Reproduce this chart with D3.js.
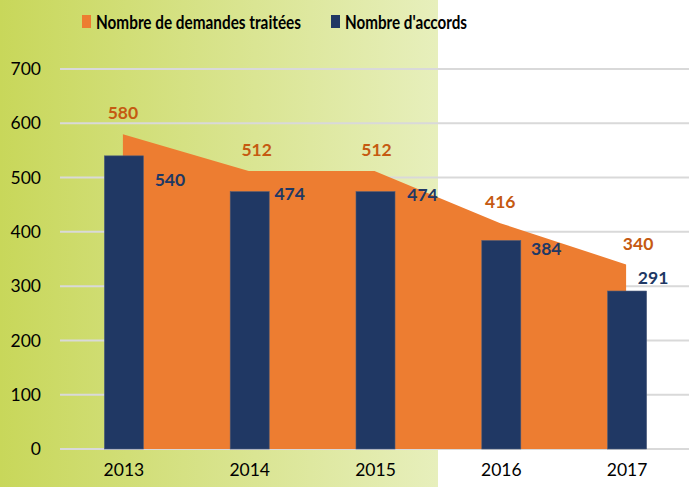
<!DOCTYPE html>
<html>
<head>
<meta charset="utf-8">
<script src="https://cdn.jsdelivr.net/npm/d3@7"></script>
<style>
  body { margin: 0; background: #fff; }
  svg { display: block; font-family: Lato, "Open Sans", sans-serif; }
</style>
</head>
<body>
<script>
var years = ['2013', '2014', '2015', '2016', '2017'];
var demandes = [580, 512, 512, 416, 340];
var accords = [540, 474, 474, 384, 291];
var yTicks = [0, 100, 200, 300, 400, 500, 600, 700];

var width = 689;
var height = 487;
var margin = { left: 60, right: 0, top: 69, bottom: 38 };

var svg = d3.select('body')
            .append('svg')
            .attr('width', width)
            .attr('height', height);

// green background band on the left
var defs = svg.append('defs');
var grad = defs.append('linearGradient')
               .attr('id', 'bg')
               .attr('x1', '0%').attr('x2', '100%');
grad.append('stop').attr('offset', '0%').attr('stop-color', '#c8d75a');
grad.append('stop').attr('offset', '100%').attr('stop-color', '#e7efbc');
svg.append('rect')
   .attr('x', 0).attr('y', 0)
   .attr('width', 438).attr('height', height)
   .attr('fill', 'url(#bg)');

var xScale = d3.scaleBand()
               .domain(years)
               .range([margin.left, width - margin.right])
               .paddingInner(0.69)
               .paddingOuter(0.345);

var yScale = d3.scaleLinear()
               .domain([0, 700])
               .range([height - margin.bottom, margin.top]);

function cx(d) { return xScale(d) + xScale.bandwidth() / 2; }

// gridlines
svg.selectAll('.grid')
   .data(yTicks)
   .enter()
   .append('line')
   .attr('class', 'grid')
   .attr('x1', margin.left)
   .attr('x2', width)
   .attr('y1', function (d) { return yScale(d); })
   .attr('y2', function (d) { return yScale(d); })
   .attr('stroke', '#d9d9d9')
   .attr('stroke-width', 2);

// y labels
svg.selectAll('.ylab')
   .data(yTicks)
   .enter()
   .append('text')
   .attr('class', 'ylab')
   .attr('x', 41)
   .attr('y', function (d) { return yScale(d); })
   .attr('dy', '0.35em')
   .attr('text-anchor', 'end')
   .attr('font-size', 17.5)
   .attr('fill', '#000')
   .text(function (d) { return d; });

// area of demandes
var area = d3.area()
             .x(function (d, i) { return cx(years[i]); })
             .y0(yScale(0))
             .y1(function (d) { return yScale(d); });
svg.append('path')
   .datum(demandes)
   .attr('d', area)
   .attr('fill', '#ed7d31');

// bars of accords
svg.selectAll('.bar')
   .data(accords)
   .enter()
   .append('rect')
   .attr('class', 'bar')
   .attr('x', function (d, i) { return xScale(years[i]) + 1; })
   .attr('y', function (d) { return yScale(d); })
   .attr('width', xScale.bandwidth())
   .attr('height', function (d) { return yScale(0) - yScale(d); })
   .attr('fill', '#203864')
   .attr('stroke', '#4a5a7a')
   .attr('stroke-width', 0.6);

// x labels
svg.selectAll('.xlab')
   .data(years)
   .enter()
   .append('text')
   .attr('class', 'xlab')
   .attr('x', function (d) { return cx(d) + 1; })
   .attr('y', 476)
   .attr('text-anchor', 'middle')
   .attr('font-size', 17.5)
   .attr('fill', '#000')
   .text(function (d) { return d; });

// value labels (nudged as in the original)
var demDx = [0, 8, 2, 0, 12];
var accDx = [47, 41, 48, 46, 27];
var accDy = [24, 2, 3, 8, -13];

svg.selectAll('.dlab')
   .data(demandes)
   .enter()
   .append('text')
   .attr('class', 'dlab')
   .attr('x', function (d, i) { return cx(years[i]) + demDx[i]; })
   .attr('y', function (d) { return yScale(d) - 21; })
   .attr('dy', '0.35em')
   .attr('text-anchor', 'middle')
   .attr('font-size', 17.5)
   .attr('font-weight', 'bold')
   .attr('fill', '#c55a11')
   .text(function (d) { return d; });

svg.selectAll('.alab')
   .data(accords)
   .enter()
   .append('text')
   .attr('class', 'alab')
   .attr('x', function (d, i) { return cx(years[i]) + accDx[i]; })
   .attr('y', function (d, i) { return yScale(d) + accDy[i]; })
   .attr('dy', '0.35em')
   .attr('text-anchor', 'middle')
   .attr('font-size', 17.5)
   .attr('font-weight', 'bold')
   .attr('fill', '#203864')
   .text(function (d) { return d; });

// legend
var legend = [
  { label: 'Nombre de demandes traitées', color: '#ed7d31', x: 82, w: 205 },
  { label: "Nombre d'accords", color: '#203864', x: 331, w: 122 }
];
var lg = svg.selectAll('.legend')
            .data(legend)
            .enter()
            .append('g')
            .attr('class', 'legend')
            .attr('transform', function (d) { return 'translate(' + d.x + ',0)'; });
lg.append('rect')
  .attr('x', 0).attr('y', 15)
  .attr('width', 9).attr('height', 13)
  .attr('fill', function (d) { return d.color; });
lg.append('text')
  .attr('x', 14).attr('y', 22)
  .attr('dy', '0.35em')
  .attr('font-size', 19.5)
  .attr('font-weight', 'bold')
  .attr('fill', '#000')
  .attr('textLength', function (d) { return d.w; })
  .attr('lengthAdjust', 'spacingAndGlyphs')
  .text(function (d) { return d.label; });
</script>
</body>
</html>
